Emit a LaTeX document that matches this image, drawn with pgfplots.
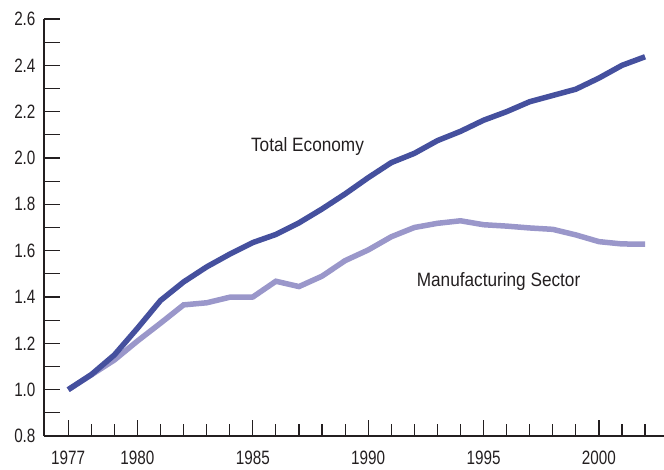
\documentclass[border=0pt]{standalone}
\usepackage{fontspec}
\setmainfont{Liberation Sans}[FakeStretch=0.79]
\newfontfamily\annfont{Liberation Sans}[FakeStretch=0.89]
\usepackage{pgfplots}
\pgfplotsset{compat=1.18}
\usetikzlibrary{calc}
\definecolor{totc}{HTML}{45509E}
\definecolor{manc}{HTML}{9A97CA}
\definecolor{axc}{HTML}{231F20}
\begin{document}
\begin{tikzpicture}
\begin{axis}[
  scale only axis,
  width=620bp, height=417bp,
  xmin=1975.95, xmax=2002.82,
  ymin=0.8, ymax=2.6,
  axis lines=left,
  axis line style={-, line width=2.5bp, color=axc},
  tick align=inside,
  xtick={1977,1980,1985,1990,1995,2000},
  minor xtick={1978,1979,1981,1982,1983,1984,1986,1987,1988,1989,1991,1992,1993,1994,1996,1997,1998,1999,2001,2002},
  ytick={0.8,1.0,...,2.61},
  minor ytick={0.9,1.1,...,2.51},
  yticklabel style={/pgf/number format/fixed, /pgf/number format/fixed zerofill, /pgf/number format/precision=1, xshift=-5bp},
  xticklabel style={/pgf/number format/1000 sep={}, yshift=-11bp},
  xtick style={line width=1.2bp, color=axc},
  ytick style={line width=1.2bp, color=axc},
  major tick length=16bp,
  minor tick length=12bp,
  minor y tick style={/pgfplots/minor tick length=16bp},
  /pgf/number format/assume math mode=true,
  tick label style={font=\fontsize{19.4}{20}\selectfont, text=axc},
  clip=false,
]
\addplot[color=manc, line width=5.5bp] coordinates {
(1977,1.0)(1978,1.064)(1979,1.128)(1980,1.21)(1981,1.287)(1982,1.366)(1983,1.375)(1984,1.399)(1985,1.40)(1986,1.468)(1987,1.445)(1988,1.49)(1989,1.557)(1990,1.603)(1991,1.66)(1992,1.70)(1993,1.718)(1994,1.729)(1995,1.712)(1996,1.706)(1997,1.698)(1998,1.692)(1999,1.668)(2000,1.639)(2001,1.629)(2002,1.628)
};
\addplot[color=totc, line width=5.5bp] coordinates {
(1977,1.0)(1978,1.065)(1979,1.15)(1980,1.265)(1981,1.385)(1982,1.465)(1983,1.53)(1984,1.585)(1985,1.635)(1986,1.67)(1987,1.72)(1988,1.78)(1989,1.845)(1990,1.915)(1991,1.98)(1992,2.02)(1993,2.075)(1994,2.115)(1995,2.163)(1996,2.20)(1997,2.243)(1998,2.27)(1999,2.297)(2000,2.345)(2001,2.40)(2002,2.437)
};
\node[anchor=base, inner sep=0pt, font=\annfont\fontsize{19.4}{20}\selectfont, text=axc] at (axis cs:1987.37,2.027) {Total Economy};
\node[anchor=base, inner sep=0pt, font=\annfont\fontsize{19.4}{20}\selectfont, text=axc] at (axis cs:1995.65,1.4445) {Manufacturing Sector};
\coordinate (ll) at (rel axis cs:0,0);
\end{axis}
\pgfresetboundingbox
\path[use as bounding box] ($(ll)+(-44bp,-34bp)$) rectangle ($(ll)+(620bp,436bp)$);
\end{tikzpicture}
\end{document}
